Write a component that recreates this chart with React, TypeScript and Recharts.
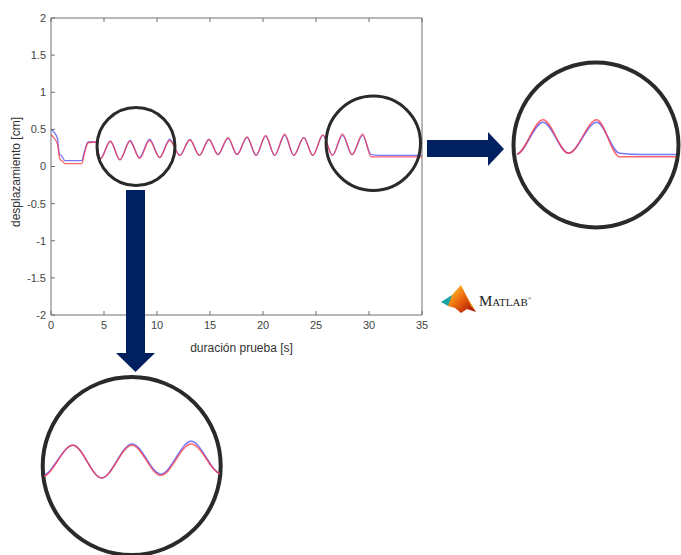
import React from 'react';
import { LineChart, Line, XAxis, YAxis } from 'recharts';

const times = [0, 0.3, 0.6, 0.8, 0.95, 1.1, 1.3, 2.9, 3.15, 3.5, 4.2, 4.65, 5.6, 6.5, 7.45, 8.35, 9.3, 10.25, 11.2, 12.15, 13.1, 14.0, 14.9, 15.75, 16.7, 17.55, 18.5, 19.35, 20.25, 21.1, 22.05, 22.9, 23.85, 24.7, 25.65, 26.55, 27.5, 28.4, 29.4, 30.2, 31.0, 35.0];
const blueValues = [0.5, 0.46, 0.38, 0.16, 0.15, 0.12, 0.08, 0.08, 0.2, 0.33, 0.33, 0.11, 0.34, 0.09, 0.35, 0.12, 0.37, 0.12, 0.37, 0.15, 0.36, 0.15, 0.37, 0.16, 0.38, 0.16, 0.39, 0.15, 0.41, 0.15, 0.42, 0.15, 0.39, 0.15, 0.42, 0.15, 0.42, 0.16, 0.42, 0.16, 0.15, 0.15];
const redValues = [0.43, 0.38, 0.31, 0.12, 0.08, 0.07, 0.04, 0.04, 0.17, 0.32, 0.33, 0.1, 0.34, 0.09, 0.34, 0.11, 0.35, 0.12, 0.35, 0.15, 0.36, 0.15, 0.36, 0.16, 0.39, 0.16, 0.4, 0.15, 0.42, 0.15, 0.44, 0.15, 0.39, 0.15, 0.43, 0.15, 0.44, 0.16, 0.44, 0.13, 0.13, 0.13];

const xTicks = [0, 5, 10, 15, 20, 25, 30, 35];
const yTicks = [-2, -1.5, -1, -0.5, 0, 0.5, 1, 1.5, 2];
const xTitle = 'duración prueba [s]';
const yTitle = 'desplazamiento [cm]';

const data = times.map((t, i) => ({ t, blue: blueValues[i], red: redValues[i] }));

const BLUE = 'rgba(60,60,255,0.7)';
const RED = 'rgba(255,50,60,0.75)';
const AXIS = '#707070';
const FONT = '"Liberation Sans", Arial, sans-serif';

function Inset({ left, top, width, height, xDomain, yDomain }: any) {
  return (
    <div style={{ position: 'absolute', left, top }}>
      <LineChart width={width} height={height} data={data} margin={{ top: 0, right: 0, bottom: 0, left: 0 }}>
        <XAxis dataKey="t" type="number" domain={xDomain} allowDataOverflow hide />
        <YAxis type="number" domain={yDomain} allowDataOverflow hide />
        <Line type="monotone" dataKey="blue" stroke={BLUE} strokeWidth={1.5} dot={false} isAnimationActive={false} />
        <Line type="monotone" dataKey="red" stroke={RED} strokeWidth={1.5} dot={false} isAnimationActive={false} />
      </LineChart>
    </div>
  );
}

export default function App() {
  const empty = () => '';
  return (
    <div style={{ position: 'absolute', left: 0, top: 0, width: 681, height: 555, background: '#fff', overflow: 'hidden' }}>
      <div style={{ position: 'absolute', left: 0, top: 0 }}>
        <LineChart width={681} height={555} data={data} margin={{ top: 17, right: 258, bottom: 210, left: 0 }}>
          <XAxis dataKey="t" type="number" domain={[0, 35]} ticks={xTicks} height={30} tickSize={-4} tickMargin={10}
            axisLine={{ stroke: AXIS }} tickLine={{ stroke: AXIS }} tick={{ fill: '#444', fontSize: 11, fontFamily: FONT }} interval={0} />
          <XAxis xAxisId="top" orientation="top" dataKey="t" type="number" domain={[0, 35]} ticks={xTicks} height={1} tickSize={-4}
            axisLine={{ stroke: AXIS }} tickLine={{ stroke: AXIS }} tickFormatter={empty} interval={0} />
          <YAxis type="number" domain={[-2, 2]} ticks={yTicks} width={51} tickSize={-4} tickMargin={9}
            axisLine={{ stroke: AXIS }} tickLine={{ stroke: AXIS }} tick={{ fill: '#444', fontSize: 11, fontFamily: FONT }} interval={0} />
          <YAxis yAxisId="right" orientation="right" type="number" domain={[-2, 2]} ticks={yTicks} width={1} tickSize={-4}
            axisLine={{ stroke: AXIS }} tickLine={{ stroke: AXIS }} tickFormatter={empty} interval={0} />
          <Line type="monotone" dataKey="blue" stroke={BLUE} strokeWidth={1.3} dot={false} isAnimationActive={false} />
          <Line type="monotone" dataKey="red" stroke={RED} strokeWidth={1.3} dot={false} isAnimationActive={false} />
        </LineChart>
      </div>
      <svg width={681} height={555} style={{ position: 'absolute', left: 0, top: 0 }}>
        <defs>
          <linearGradient id="mlg" x1="0" y1="0" x2="1" y2="1">
            <stop offset="0" stopColor="#ffdd33" />
            <stop offset="0.45" stopColor="#f07010" />
            <stop offset="1" stopColor="#a00000" />
          </linearGradient>
        </defs>
        <text x={241.5} y={352} textAnchor="middle" fontSize={12} fontFamily={FONT} fill="#333">{xTitle}</text>
        <text x={20} y={172} textAnchor="middle" fontSize={12} fontFamily={FONT} fill="#333" transform="rotate(-90 20 172)">{yTitle}</text>
        <circle cx={136} cy={146.5} r={39} fill="none" stroke="#2a2a2a" strokeWidth={3} />
        <circle cx={373.3} cy={143.3} r={47.2} fill="none" stroke="#2a2a2a" strokeWidth={3} />
        <rect x={126} y={190} width={19} height={163} fill="#002060" />
        <polygon points="116,353 155,353 135.5,372" fill="#002060" />
        <rect x={427} y={140} width={61} height={17} fill="#002060" />
        <polygon points="488,132 488,166 504,149" fill="#002060" />
        <circle cx={131.7} cy={466} r={89} fill="none" stroke="#2a2a2a" strokeWidth={4} />
        <circle cx={596} cy={145} r={82.5} fill="none" stroke="#2a2a2a" strokeWidth={4} />
        <polygon points="441,302 452,295 457,301 448,306" fill="#1aa3a3" />
        <polygon points="448,306 452,295 461,285 467,297 476,312 467,309 461,313 455,308" fill="url(#mlg)" />
        <polygon points="461,285 464,291 471,306 476,312 467,297" fill="#ffcc22" opacity={0.8} />
        <text x={479} y={306} fontFamily='"Liberation Serif", "Times New Roman", serif' fill="#222">
          <tspan fontSize={15}>M</tspan><tspan fontSize={11}>ATLAB</tspan><tspan fontSize={5} dy={-6}>®</tspan>
        </text>
      </svg>
      <Inset left={44} top={398} width={176} height={118} xDomain={[4.7, 10.2]} yDomain={[-0.2, 0.7]} />
      <Inset left={517} top={65} width={159} height={143} xDomain={[26.58, 32.2]} yDomain={[-0.3, 0.9]} />
    </div>
  );
}
